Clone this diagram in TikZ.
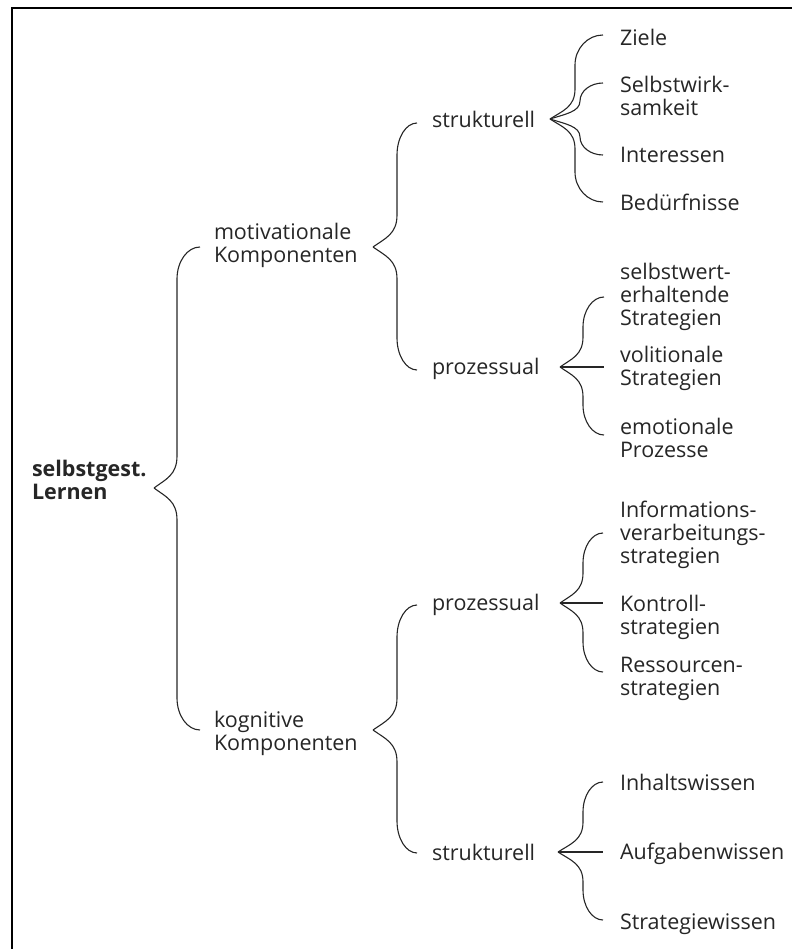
\documentclass[tikz,border=0pt]{standalone}
\usepackage{fontspec}
\setmainfont{Open Sans}
\usetikzlibrary{calc}
\definecolor{ink}{RGB}{38,38,38}

% One arm of a curly brace: from the tip #1 to the end #2.
% #3 = horizontal distance tip -> vertical stem, #4 = curl radius,
% #5 = +1 for an arm going up, -1 for an arm going down.
\newcommand\bracearm[5]{%
  \draw[brace] let \p1=(#1), \p2=(#2) in
    (\p1) .. controls +(0.5*#3pt,#5*0.27*#4pt) and +(0pt,-#5*0.6*#4pt)
          .. (\x1+#3pt,\y1+#5*#4pt)
    -- (\x1+#3pt,\y2-#5*#4pt)
       .. controls +(0pt,#5*0.55*#4pt) and +({-0.55*(\x2-\x1-#3pt)},0pt)
          .. (\p2);}

\begin{document}
\begin{tikzpicture}[x=1pt,y=1pt,
  brace/.style={draw=ink,line width=1.1pt},
  frame/.style={draw=black,line width=2pt},
  lbl/.style={anchor=north west,inner sep=0pt,outer sep=0pt,align=left,text=ink,
    font=\fontsize{21.5}{23}\selectfont,execute at begin node=\strut},
  lblb/.style={lbl,font=\fontsize{21.5}{23}\selectfont\bfseries}]
\useasboundingbox (0,0) rectangle (792,-949);

% open frame
\draw[frame] (11.8,-949) -- (11.8,-8.3) -- (792,-8.3);

% labels (y = baseline of first line minus strut height 16.1)
\node[lblb] (root)  at (32,-459.9)  {selbstgest.\\Lernen};
\node[lbl]  (motiv) at (214,-222.9) {motivationale\\Komponenten};
\node[lbl]  (kogn)  at (214,-710.9) {kognitive\\Komponenten};

\node[lbl] (struk1) at (432,-110.9) {strukturell};
\node[lbl] (proz1)  at (432,-357.9) {prozessual};
\node[lbl] (proz2)  at (432,-593.9) {prozessual};
\node[lbl] (struk2) at (432,-843.9) {strukturell};

\node[lbl] (ziele)      at (620,-28.9)  {Ziele};
\node[lbl] (selbstw)    at (620,-75.9)  {Selbstwirk-\\samkeit};
\node[lbl] (interessen) at (620,-146.9) {Interessen};
\node[lbl] (beduerf)    at (620,-193.9) {Bedürfnisse};

\node[lbl] (selbstwert) at (620,-262.9) {selbstwert-\\erhaltende\\Strategien};
\node[lbl] (volit)      at (620,-345.9) {volitionale\\Strategien};
\node[lbl] (emot)       at (620,-417.9) {emotionale\\Prozesse};

\node[lbl] (info)       at (620,-500.9) {Informations-\\verarbeitungs-\\strategien};
\node[lbl] (kontroll)   at (620,-594.9) {Kontroll-\\strategien};
\node[lbl] (ressourcen) at (620,-656.9) {Ressourcen-\\strategien};

\node[lbl] (inhalt)     at (620,-773.9) {Inhaltswissen};
\node[lbl] (aufgaben)   at (620,-842.9) {Aufgabenwissen};
\node[lbl] (strategie)  at (620,-912.9) {Strategiewissen};

% brace tips and arm ends
\coordinate (t-root)  at (154,-488);
\coordinate (e-motiv) at (200,-247);
\coordinate (e-kogn)  at (200,-730);

\coordinate (t-motiv)  at (373,-247);
\coordinate (e-struk1) at (417,-123);
\coordinate (e-proz1)  at (417,-370);

\coordinate (t-kogn)   at (373,-730);
\coordinate (e-proz2)  at (417,-605);
\coordinate (e-struk2) at (417,-853);

\coordinate (t-struk1)     at (550,-119);
\coordinate (e-ziele)      at (603,-35);
\coordinate (e-selbstw)    at (603,-83);
\coordinate (e-interessen) at (603,-155);
\coordinate (e-beduerf)    at (603,-202);

\coordinate (t-proz1)      at (560,-367);
\coordinate (e-selbstwert) at (604,-297);
\coordinate (e-volit)      at (604,-367);
\coordinate (e-emot)       at (604,-435);

\coordinate (t-proz2)      at (560,-603);
\coordinate (e-info)       at (603,-533);
\coordinate (e-kontroll)   at (603,-603);
\coordinate (e-ressourcen) at (603,-672);

\coordinate (t-struk2)     at (558,-852);
\coordinate (e-inhalt)     at (603,-782);
\coordinate (e-aufgaben)   at (603,-852);
\coordinate (e-strategie)  at (603,-920);

% braces
\bracearm{t-root}{e-motiv}{23}{32}{1}
\bracearm{t-root}{e-kogn}{23}{32}{-1}

\bracearm{t-motiv}{e-struk1}{24}{32}{1}
\bracearm{t-motiv}{e-proz1}{24}{32}{-1}
\bracearm{t-kogn}{e-proz2}{24}{32}{1}
\bracearm{t-kogn}{e-struk2}{24}{32}{-1}

\bracearm{t-struk1}{e-ziele}{25}{30}{1}
\bracearm{t-struk1}{e-selbstw}{30}{18}{1}
\bracearm{t-struk1}{e-interessen}{30}{18}{-1}
\bracearm{t-struk1}{e-beduerf}{25}{30}{-1}

\bracearm{t-proz1}{e-selbstwert}{23}{30}{1}
\draw[brace] (t-proz1) -- (e-volit);
\bracearm{t-proz1}{e-emot}{23}{30}{-1}

\bracearm{t-proz2}{e-info}{23}{30}{1}
\draw[brace] (t-proz2) -- (e-kontroll);
\bracearm{t-proz2}{e-ressourcen}{23}{30}{-1}

\bracearm{t-struk2}{e-inhalt}{25}{30}{1}
\draw[brace] (t-struk2) -- (e-aufgaben);
\bracearm{t-struk2}{e-strategie}{25}{30}{-1}
\end{tikzpicture}
\end{document}
